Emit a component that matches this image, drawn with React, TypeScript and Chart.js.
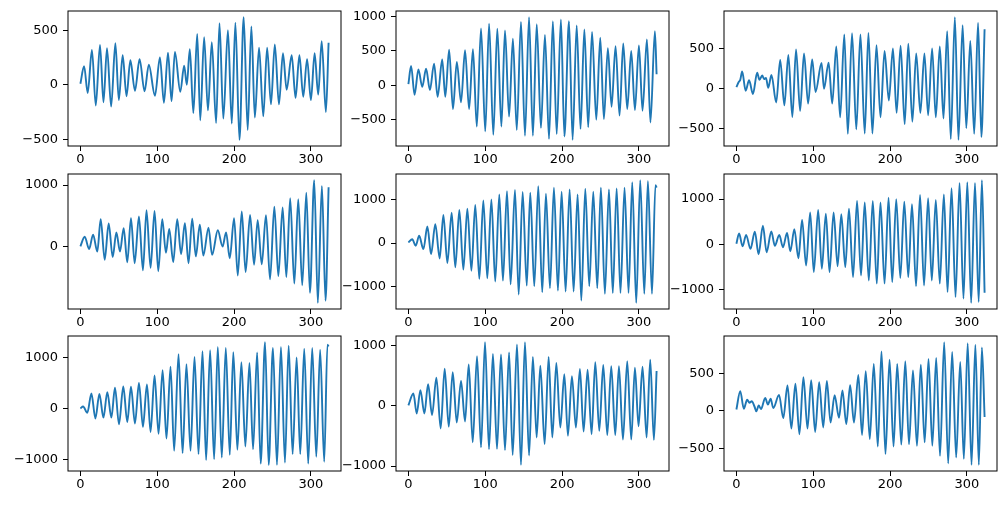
import React, { useEffect, useRef } from 'react';
import { Chart, registerables } from 'chart.js';

Chart.register(...registerables);

// ---- data (extrema, x = sample index) ----
const xTicks = [0, 100, 200, 300];

const p1x = [0,4.8,9.5,15,20,25.5,30,34.6,40,45.5,50,55,60,65,71,77,83.5,89,97,103.5,108.7,114,118.6,123,130,135,138.5,142.4,147,152,156,161,166,171,176.6,181,186,192,197,201.7,207,212.5,217.7,222.5,227,232.5,238,243,248,253,258.4,263.6,268.4,275,280,285,290,295,300,304.8,309.5,314,319.5,323];
const p1y = [10,170,-75,320,-190,365,-160,335,-200,380,-140,270,-105,225,-55,235,-60,185,-100,250,-165,295,-150,300,-65,175,0,325,-260,465,-325,435,-235,390,-350,565,-310,500,-355,570,-505,620,-415,535,-300,340,-290,340,-180,370,-180,290,-45,270,-120,270,-110,235,-140,290,-90,400,-250,385];
const p1ticks = [-500, 0, 500];

const p2x = [0,3.5,8,13,18,23,28,33.4,38,44,48,53,58,63,68.5,73.7,79,84,89,94.5,100,105,110.5,115.7,121,125.7,131,136,141,146.5,151.7,157,162,167,172.5,177.7,183,188,193,198.5,203,209,213.7,219,224,229,234,239,244.5,249.7,254.4,259.6,264.4,269.6,274.8,279.6,284.8,290,294.8,300,304.7,310.4,315,320.8,323];
const p2y = [15,280,-140,230,-25,240,-70,315,-170,375,-170,520,-350,340,-250,510,-350,525,-605,830,-675,900,-725,825,-605,800,-460,680,-655,925,-740,995,-740,890,-625,735,-785,935,-715,960,-750,935,-800,875,-640,815,-615,780,-505,695,-495,540,-315,570,-445,610,-350,500,-365,580,-375,670,-545,790,160];
const p2ticks = [-500, 0, 500, 1000];

const p3x = [0,3,5,7.5,12,16.5,21.5,27,30,33.6,36,38.5,41.4,45.6,51.8,57,62.4,67.6,72.8,77.6,82.9,88,93.3,98.6,103,110.8,114,120,124.7,130,135,140.4,145,150.5,156,161.4,167,171.8,177,182.3,187.5,192.8,198.4,203.7,208.5,213.7,219,223.7,229,234,239.4,244.7,249.5,254.7,259.5,264.7,269.5,274.3,279,284.3,289,294.4,299.2,304.4,309.5,314.5,318.8,323];
const p3y = [20,85,110,215,-25,105,-65,200,110,165,120,135,12,172,-170,358,-205,420,-350,490,-275,440,-185,365,-40,320,0,325,-185,525,-355,675,-560,690,-505,675,-555,695,-555,540,-355,470,-145,500,-300,535,-440,560,-410,440,-300,440,-330,500,-355,525,-370,715,-625,890,-635,790,-490,595,-560,820,-600,740];
const p3ticks = [-500, 0, 500];

const p4x = [0,5.6,11.3,16.5,22,26.4,31.6,36.8,42,46.8,51.5,56.3,61,65.8,70.6,76.2,81.4,86,91.3,96.5,101.3,106.5,111.3,115.6,120.8,126,131,136,140.7,145.5,150.2,155.4,160,166.7,171.4,178.8,185,189.6,194.4,200,204.8,210,215,220.8,226,230.7,236,241.5,246.8,252.4,257.6,263.2,268,273,278.4,283.5,288.7,294,298.7,304.3,309,314.3,319,323];
const p4y = [5,160,-40,195,-80,445,-215,375,-170,230,-80,300,-255,460,-270,490,-385,590,-345,580,-400,445,-100,285,-250,445,-120,380,-270,455,-160,355,-145,305,-135,265,0,230,-190,460,-470,570,-415,515,-295,430,-290,510,-530,650,-480,635,-495,785,-600,770,-630,875,-750,1080,-915,985,-880,965];
const p4ticks = [0, 1000];

const p5x = [0,5,9.5,14,19.5,24.7,29.5,35,40.7,45.5,50.7,56.3,61,66.3,71.5,76.7,82,87,92.3,97.5,102.7,108,113,118.3,123,128.3,133,138.7,143.5,148.7,154,158.6,163.8,169,174.2,179,184.2,189.4,194.6,199.4,204.6,209.8,215,220.2,225,230.2,235.4,240.6,245.8,250.5,255.7,261,266,271,276,281.3,286.5,291.3,296.5,301.7,307,311.7,317,321.5,323];
const p5y = [15,90,-60,170,-140,385,-255,440,-355,655,-460,705,-560,770,-615,800,-640,885,-830,990,-815,1015,-890,1130,-870,1205,-955,1230,-1190,1185,-985,1170,-1000,1320,-1140,1145,-1045,1285,-1100,1190,-1120,1245,-1120,1130,-1330,1260,-1000,1190,-1045,1285,-1175,1245,-1155,1270,-1155,1285,-1155,1415,-1385,1460,-1175,1440,-1175,1345,1285];
const p5ticks = [-1000, 0, 1000];

const p6x = [0,3.5,8,12.6,18.3,24,28.8,34.5,39.3,45.4,50,55.8,60.6,65.9,70.2,75.4,80.7,85.5,90.7,96,100.7,106.4,111.2,116.4,121.2,126.5,131.7,136.5,141.7,146.5,151.8,157,162.2,167,172.3,177.5,182.7,187.5,192.8,198,202.8,208,213.3,218.5,223.7,228.5,233.8,239,244.2,249.5,254.3,259.5,264.7,270,274.8,280,285.2,290.4,295.5,300.5,305.5,310.5,315.3,319.5,323];
const p6y = [15,240,-45,210,-100,280,-220,410,-175,285,-30,205,-65,250,-155,335,-310,540,-470,705,-615,760,-540,680,-615,705,-485,665,-505,790,-725,960,-690,925,-800,960,-870,925,-870,1030,-835,1000,-745,945,-725,885,-925,1090,-910,1020,-800,980,-870,1105,-1055,1240,-1165,1360,-1200,1375,-1295,1360,-1275,1420,-1070];
const p6ticks = [-1000, 0, 1000];

const p7x = [0,3.5,9,14.3,19.5,24.7,30,35,40.3,45,50.2,55.8,61,65.8,71,76.2,81.4,86.6,91.3,96.5,101.7,107,112,117.3,122,127.7,133,138,143.3,148.5,153.7,158.9,163.6,168.8,174,178.8,184,189.2,194.4,199,204.3,209.5,214.7,220,224.7,230,234.6,240.3,245,250.6,255.8,261,266.2,271,276.2,281.4,286.1,291.3,296.5,301.7,307,312,317.3,321.5,323];
const p7y = [5,45,-80,300,-190,290,-175,325,-175,410,-305,435,-260,430,-290,505,-355,475,-455,650,-490,755,-585,825,-825,1070,-870,875,-825,1015,-890,1125,-1005,1145,-990,1210,-955,1190,-905,1110,-805,910,-740,895,-795,1105,-1075,1305,-1100,1190,-1100,1210,-1055,1235,-890,1005,-890,1175,-1075,1190,-940,1155,-1040,1255,1220];
const p7ticks = [-1000, 0, 1000];

const p8x = [0,6.5,10.8,15.6,20.8,25.6,30.8,36.4,42,47.2,52.5,57.7,62.9,68.5,73.7,78.5,83.7,89.3,94.5,99.7,104.9,110,115.3,120.5,125.7,131,135.7,141.3,146.5,151.7,157,162,166.9,171.7,177.3,182.5,187.3,192.5,197.7,202.9,207.6,212.8,218,223.2,228,233.2,238.4,243.2,248.4,253.6,258.8,264,269.2,274,279.2,284.8,290,294.8,299.5,304.7,310,314.7,319.5,323];
const p8y = [10,205,-125,260,-125,360,-150,470,-375,620,-345,560,-275,415,-260,690,-605,825,-690,1060,-720,865,-715,855,-735,890,-815,1020,-980,1060,-825,815,-525,670,-635,815,-525,715,-360,525,-495,495,-360,615,-425,600,-470,725,-415,680,-485,660,-485,660,-560,745,-560,635,-340,650,-525,770,-565,580];
const p8ticks = [-1000, 0, 1000];

const p9x = [0,5,9.6,14,17,20,23.5,26,29,32,37.5,41,44.5,48,55.5,61,66.5,71.5,76.8,82,87.2,92.5,97.3,102.5,107.7,113,117.7,122.5,127.8,133.5,138,143,148,153,158.7,163.5,168.3,173.6,178.8,184,188.8,194,199.3,204.5,209.3,214.6,219.8,224.6,229.8,235,240,245,250,255,260,265,270.4,275.6,280.8,286,291.3,296,301,306,311,315.5,319.5,323];
const p9y = [20,265,30,150,110,130,60,-5,75,25,175,85,165,40,215,-95,340,-235,365,-310,450,-235,410,-280,385,-220,400,-155,210,-90,275,-175,345,-155,480,-320,530,-375,630,-475,795,-575,685,-475,630,-450,665,-445,540,-465,620,-420,695,-465,710,-600,920,-700,790,-620,655,-640,905,-720,885,-720,850,-80];
const p9ticks = [-500, 0, 500];

const panels = [
  { xs: p1x, ys: p1y, yTicks: p1ticks },
  { xs: p2x, ys: p2y, yTicks: p2ticks },
  { xs: p3x, ys: p3y, yTicks: p3ticks },
  { xs: p4x, ys: p4y, yTicks: p4ticks },
  { xs: p5x, ys: p5y, yTicks: p5ticks },
  { xs: p6x, ys: p6y, yTicks: p6ticks },
  { xs: p7x, ys: p7y, yTicks: p7ticks },
  { xs: p8x, ys: p8y, yTicks: p8ticks },
  { xs: p9x, ys: p9y, yTicks: p9ticks },
];

// ---- layout ----
const AX_LEFT = [68, 396, 724];
const AX_TOP = [11, 174, 336];
const AX_W = 273;
const AX_H = 135;
const PAD_L = 66;
const PAD_T = 16;
const PAD_R = 16;
const PAD_B = 32;
const CW = PAD_L + AX_W + PAD_R;
const CH = PAD_T + AX_H + PAD_B;
const X_MIN = -16.15;
const X_MAX = 339.15;

const FONT = { family: 'DejaVu Sans', size: 13 };
const fmt = (v: any) => (Number(v) < 0 ? '\u2212' + Math.abs(Number(v)) : String(v));

const framePlugin = {
  id: 'frame',
  afterDraw(chart: any) {
    const { ctx, chartArea: a } = chart;
    ctx.save();
    ctx.strokeStyle = '#000';
    ctx.lineWidth = 1;
    ctx.strokeRect(a.left, a.top, a.right - a.left, a.bottom - a.top);
    ctx.restore();
  },
};

function Panel({ xs, ys, yTicks, left, top }: any) {
  const ref = useRef<HTMLCanvasElement>(null);
  useEffect(() => {
    const data = xs.map((x: number, i: number) => ({ x, y: ys[i] }));
    const ymin = Math.min(...ys);
    const ymax = Math.max(...ys);
    const m = (ymax - ymin) * 0.05;
    const chart = new Chart(ref.current as HTMLCanvasElement, {
      type: 'line',
      data: {
        datasets: [
          {
            data,
            borderColor: '#1f77b4',
            borderWidth: 1.9,
            pointRadius: 0,
            cubicInterpolationMode: 'monotone',
            fill: false,
          } as any,
        ],
      },
      options: {
        animation: false,
        responsive: false,
        maintainAspectRatio: false,
        events: [],
        layout: { padding: { left: 0, top: PAD_T, right: PAD_R, bottom: 0 } },
        plugins: {
          legend: { display: false },
          tooltip: { enabled: false },
          title: { display: false },
        },
        scales: {
          x: {
            type: 'linear',
            min: X_MIN,
            max: X_MAX,
            afterBuildTicks: (s: any) => {
              s.ticks = xTicks.map((v) => ({ value: v }));
            },
            afterFit: (s: any) => {
              s.height = PAD_B;
            },
            grid: { drawOnChartArea: false, drawTicks: true, tickLength: 5, color: '#000', lineWidth: 1 },
            border: { display: false },
            ticks: { color: '#000', font: FONT, padding: 1, maxRotation: 0, autoSkip: false, callback: fmt },
          },
          y: {
            type: 'linear',
            min: ymin - m,
            max: ymax + m,
            afterBuildTicks: (s: any) => {
              s.ticks = yTicks.map((v: number) => ({ value: v }));
            },
            afterFit: (s: any) => {
              s.width = PAD_L;
            },
            grid: { drawOnChartArea: false, drawTicks: true, tickLength: 5, color: '#000', lineWidth: 1 },
            border: { display: false },
            ticks: { color: '#000', font: FONT, padding: 5, autoSkip: false, callback: fmt },
          },
        },
      } as any,
      plugins: [framePlugin],
    });
    return () => chart.destroy();
  }, []);
  return (
    <canvas
      ref={ref}
      width={CW}
      height={CH}
      style={{ position: 'absolute', left: left - PAD_L, top: top - PAD_T, width: CW, height: CH }}
    />
  );
}

export default function App() {
  return (
    <div style={{ position: 'absolute', left: 0, top: 0, width: 1006, height: 506, background: '#fff', overflow: 'hidden' }}>
      {panels.map((p, i) => (
        <Panel
          key={i}
          xs={p.xs}
          ys={p.ys}
          yTicks={p.yTicks}
          left={AX_LEFT[i % 3]}
          top={AX_TOP[Math.floor(i / 3)]}
        />
      ))}
    </div>
  );
}
